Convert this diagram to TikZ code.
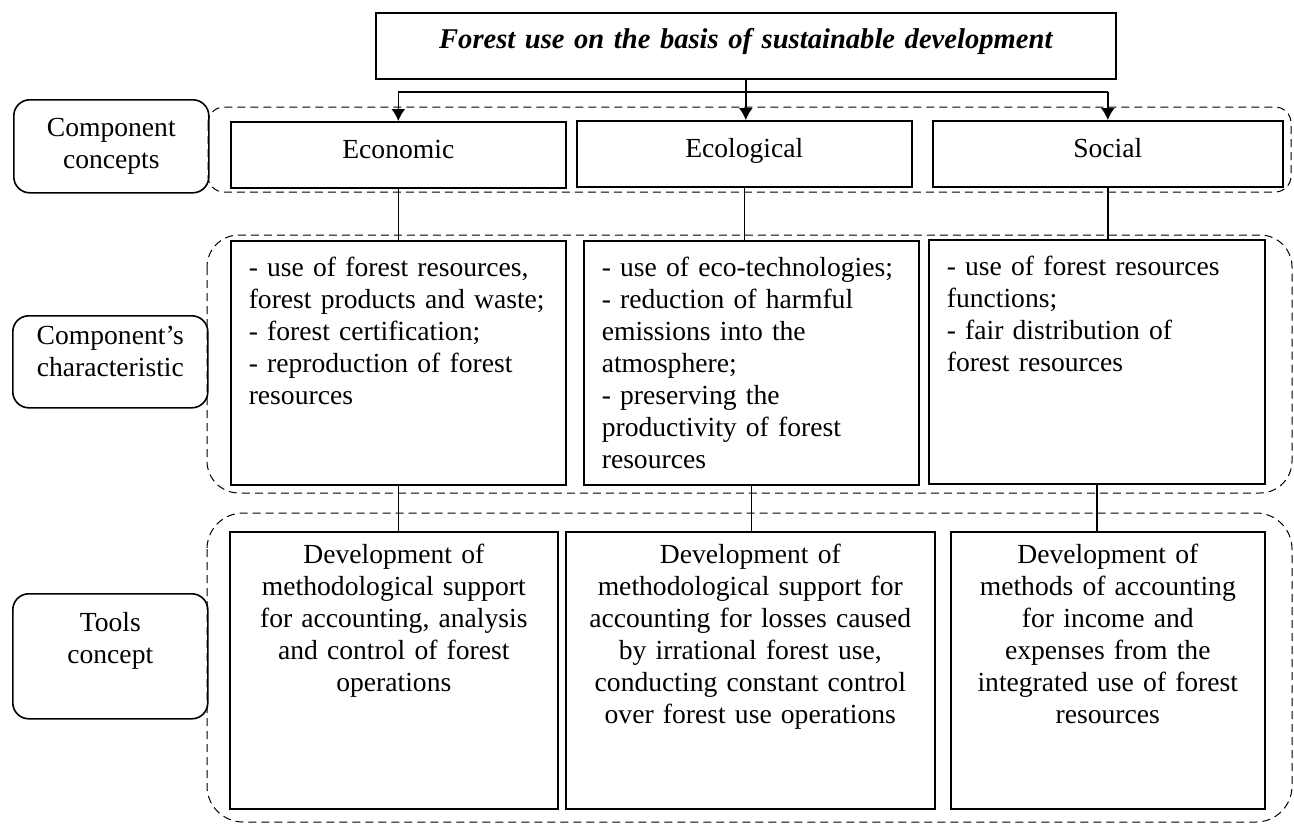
\documentclass[tikz,border=0pt]{standalone}
\usepackage{fontspec}
\setmainfont{Liberation Serif}
\usetikzlibrary{arrows.meta}

\tikzset{
	box/.style={draw, line width=0.8pt, anchor=north west, inner sep=0pt, font=\fontsize{13.8}{16}\selectfont},
	sidebox/.style={box, rounded corners=8pt, align=center, inner xsep=4pt, text width=89.5pt},
	compbox/.style={box, text height=18.5pt, text depth=14.5pt},
	charbox/.style={box, align=left, inner xsep=9pt, text height=18pt, text depth=104pt},
	toolbox/.style={box, align=center, inner xsep=4pt, text height=16pt, text depth=122.5pt},
	group/.style={dash pattern=on 4pt off 2.5pt, line width=0.5pt},
	arr/.style={-{Latex[length=6pt,width=7pt]}, line width=0.8pt}
}

\begin{document}
\begin{tikzpicture}[x=0.5pt,y=-0.5pt]
			\useasboundingbox (0,0) rectangle (1294,825);
			% dashed groups
			\draw[group, rounded corners=8pt] (208,107) rectangle (1291,192);
			\draw[group, rounded corners=16pt] (207,235) rectangle (1292,493);
			\draw[group, rounded corners=18pt] (207,513) rectangle (1292,822);
			% title
			\node[box, text width=362pt, inner xsep=4pt, text height=18pt, text depth=15pt, align=center, font=\fontsize{14.3}{16}\selectfont\bfseries\itshape] (title) at (375,12) {Forest use on the basis of sustainable development};
			% left labels
			\node[sidebox, text height=18.5pt, text depth=28pt] (lcon) at (13,99) {Component\\concepts};
			\node[sidebox, text height=14.5pt, text depth=31.5pt] (lchar) at (12,315) {Component’s\\characteristic};
			\node[sidebox, text height=19pt, text depth=43.5pt] (ltool) at (12,593) {Tools\\concept};
			% components
			\node[compbox, minimum width=167.5pt] (econ) at (230,121) {Economic};
			\node[compbox, minimum width=167.5pt] (ecol) at (576,120) {Ecological};
			\node[compbox, minimum width=175pt] (soc) at (932,120) {Social};
			% characteristics
			\node[charbox, text width=149.5pt] (ch1) at (230,240) {- use of forest resources,\\forest products and waste;\\- forest certification;\\- reproduction of forest\\resources};
			\node[charbox, text width=149.5pt] (ch2) at (583,240) {- use of eco-technologies;\\- reduction of harmful\\emissions into the\\atmosphere;\\- preserving the\\productivity of forest\\resources};
			\node[charbox, text width=150pt] (ch3) at (928,239) {- use of forest resources\\functions;\\- fair distribution of\\forest resources};
			% tools
			\node[toolbox, text width=156pt] (t1) at (229,531) {Development of\\methodological support\\for accounting, analysis\\and control of forest\\operations};
			\node[toolbox, text width=176.5pt] (t2) at (565,531) {Development of\\methodological support for\\accounting for losses caused\\by irrational forest use,\\conducting constant control\\over forest use operations};
			\node[toolbox, text width=149pt] (t3) at (950,531) {Development of\\methods of accounting\\for income and\\expenses from the\\integrated use of forest\\resources};
			% arrows from title
			\coordinate (bar) at (0,92);
			\draw[line width=0.8pt] (bar -| econ.north) -- (bar -| soc.north);
			\draw[arr] (bar -| econ.north) -- (econ.north);
			\draw[arr] (bar -| soc.north) -- (soc.north);
			\draw[arr] (title.south) -- (title.south |- ecol.north);
			% links
			\foreach \a/\b in {econ/ch1, ecol/ch2, soc/ch3, ch1/t1, ch2/t2, ch3/t3}
				\draw[line width=0.8pt] (\a.south) -- (\a.south |- \b.north);
		\end{tikzpicture}
\end{document}
